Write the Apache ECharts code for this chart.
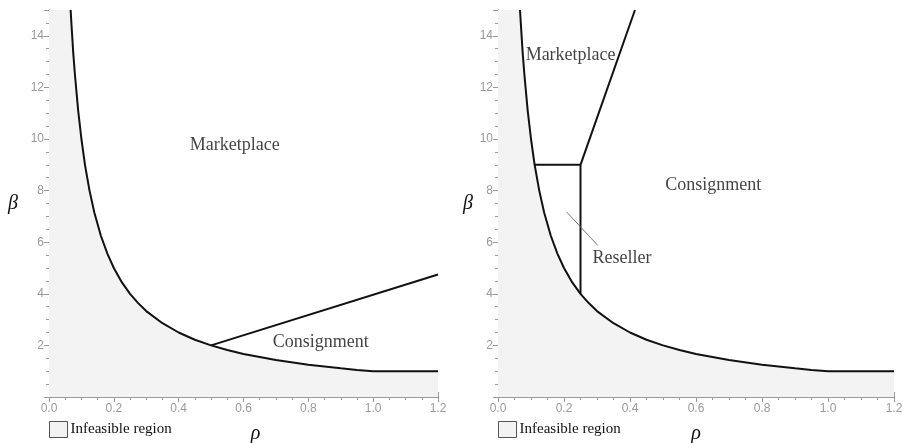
<!DOCTYPE html>
<html>
<head>
<meta charset="utf-8">
<script src="https://cdn.jsdelivr.net/npm/echarts@6/dist/echarts.min.js"></script>
<style>
html,body{margin:0;padding:0;background:#fff;}
#chart{width:903px;height:443px;}
</style>
</head>
<body>
<div id="chart"></div>
<script>
// ---- data ----
const xTickLabels = ['0.0','0.2','0.4','0.6','0.8','1.0','1.2'];
const yTickLabels = ['2','4','6','8','10','12','14'];

// feasibility boundary (same on both panels)
const boundaryRho  = [0.0667, 0.07, 0.075, 0.08, 0.085, 0.09, 0.1, 0.111, 0.125, 0.14, 0.16, 0.18, 0.2, 0.225, 0.25, 0.275, 0.3, 0.35, 0.4, 0.45, 0.5, 0.55, 0.6, 0.7, 0.8, 0.9, 0.95, 1.0, 1.2];
const boundaryBeta = [15, 14.3, 13.3, 12.5, 11.8, 11.1, 10, 9, 8, 7.14, 6.25, 5.56, 5, 4.44, 4, 3.64, 3.33, 2.86, 2.5, 2.22, 2, 1.82, 1.67, 1.43, 1.25, 1.11, 1.05, 1.0, 1.0];
// infeasible fill starts at the top-left corner
const fillStartRho  = [0, 0.0667];
const fillStartBeta = [15, 15];

// left panel: marketplace / consignment split
const leftSplitRho  = [0.5, 1.2];
const leftSplitBeta = [2, 4.75];

// right panel boundaries
const resellerTopRho    = [0.111, 0.25];
const resellerTopBeta   = [9, 9];
const resellerRightRho  = [0.25, 0.25];
const resellerRightBeta = [4, 9];
const marketEdgeRho     = [0.25, 0.415];
const marketEdgeBeta    = [9, 15];
const leaderRho  = [0.208, 0.302];
const leaderBeta = [7.17, 5.88];

// region labels
const leftLabels  = [{name:'Marketplace', rho:0.573, beta:9.76}, {name:'Consignment', rho:0.838, beta:2.14}];
const rightLabels = [{name:'Marketplace', rho:0.22, beta:13.24}, {name:'Consignment', rho:0.652, beta:8.2}, {name:'Reseller', rho:0.376, beta:5.38}];

const legendName = 'Infeasible region';

// ---- build ----
const zip = (a, b) => a.map((v, i) => [v, b[i]]);
const boundary = zip(boundaryRho, boundaryBeta);
const fillData = zip(fillStartRho, fillStartBeta).concat(boundary.slice(1));

const frameColor = '#9a9a9a';
const tickFont = {color:'#999', fontFamily:'Liberation Sans, Arial, sans-serif', fontSize:12};
const serif = 'Liberation Serif, Times New Roman, serif';

function xAxisPair(gi, nameShift) {
  const common = {
    gridIndex: gi, type:'value', min:0, max:1.2, interval:0.2,
    axisLine:{show:true, lineStyle:{color:frameColor, width:1}},
    axisTick:{show:true, inside:true, length:5, lineStyle:{color:frameColor}},
    minorTick:{show:true, splitNumber:4, length:3, lineStyle:{color:frameColor}},
    splitLine:{show:false}, minorSplitLine:{show:false}
  };
  return [
    Object.assign({}, common, {
      position:'bottom',
      axisLabel:Object.assign({margin:6, formatter: v => xTickLabels[Math.round(v/0.2)] || ''}, tickFont),
      name:'ρ', nameLocation:'middle', nameGap:27,
      nameTextStyle:{fontFamily:serif, fontStyle:'italic', fontSize:20, color:'#111', padding:[0,0,0,nameShift]}
    }),
    Object.assign({}, common, {position:'top', axisLabel:{show:false}})
  ];
}
function yAxisPair(gi, nameGap) {
  const common = {
    gridIndex: gi, type:'value', min:0, max:15, interval:2,
    axisLine:{show:true, lineStyle:{color:frameColor, width:1}},
    axisTick:{show:true, inside:true, length:5, lineStyle:{color:frameColor}},
    minorTick:{show:true, splitNumber:4, length:3, lineStyle:{color:frameColor}},
    splitLine:{show:false}, minorSplitLine:{show:false}
  };
  return [
    Object.assign({}, common, {
      position:'left',
      axisLabel:Object.assign({margin:5, showMinLabel:false, showMaxLabel:false,
        formatter: v => (v > 0 && v < 15) ? yTickLabels[Math.round(v/2) - 1] : ''}, tickFont),
      name:'β', nameLocation:'middle', nameRotate:0, nameGap:nameGap,
      nameTextStyle:{fontFamily:serif, fontStyle:'italic', fontSize:20, color:'#111'}
    }),
    Object.assign({}, common, {position:'right', axisLabel:{show:false}})
  ];
}

function lineSeries(xi, yi, data, opts) {
  return Object.assign({
    type:'line', xAxisIndex:xi, yAxisIndex:yi, data:data,
    symbol:'none', silent:true, smooth:false,
    lineStyle:{color:'#111', width:2}, z:5
  }, opts || {});
}
function fillSeries(xi, yi) {
  return {
    type:'line', name:legendName, xAxisIndex:xi, yAxisIndex:yi, data:fillData,
    symbol:'none', silent:true, lineStyle:{width:0, opacity:0},
    itemStyle:{color:'#f3f3f3'},
    areaStyle:{color:'#f3f3f3', opacity:1, origin:'start'}, z:1
  };
}
function labelSeries(xi, yi, labels) {
  return {
    type:'scatter', xAxisIndex:xi, yAxisIndex:yi, symbolSize:0, silent:true, z:6,
    data: labels.map(l => ({name:l.name, value:[l.rho, l.beta]})),
    label:{show:true, position:'inside', formatter:'{b}', fontFamily:serif, fontSize:18, color:'#111'}
  };
}

const legendCommon = {
  top:421, padding:0, itemWidth:18, itemHeight:16, icon:'rect',
  selectedMode:false,
  textStyle:{fontFamily:serif, fontSize:15, color:'#111', padding:[0,0,0,-2]},
  data:[{name:legendName, icon:'rect', itemStyle:{color:'#f3f3f3', borderColor:'#555', borderWidth:1}, lineStyle:{width:0, opacity:0}}]
};

const option = {
  animation:false,
  backgroundColor:'#fff',
  grid:[
    {left:49, top:10, width:389, height:387, containLabel:false, outerBoundsMode:'none'},
    {left:498, top:10, width:396, height:387, containLabel:false, outerBoundsMode:'none'}
  ],
  xAxis: xAxisPair(0, 24).concat(xAxisPair(1, 0)),
  yAxis: yAxisPair(0, 31).concat(yAxisPair(1, 25)),
  legend:[
    Object.assign({left:49}, legendCommon),
    Object.assign({left:498}, legendCommon)
  ],
  series:[
    fillSeries(0, 0),
    lineSeries(0, 0, boundary),
    lineSeries(0, 0, zip(leftSplitRho, leftSplitBeta)),
    labelSeries(0, 0, leftLabels),

    fillSeries(2, 2),
    lineSeries(2, 2, boundary),
    lineSeries(2, 2, zip(resellerTopRho, resellerTopBeta)),
    lineSeries(2, 2, zip(resellerRightRho, resellerRightBeta)),
    lineSeries(2, 2, zip(marketEdgeRho, marketEdgeBeta)),
    lineSeries(2, 2, zip(leaderRho, leaderBeta), {lineStyle:{color:'#777', width:1}}),
    labelSeries(2, 2, rightLabels)
  ]
};

const chart = echarts.init(document.getElementById('chart'), null, {renderer:'canvas'});
chart.setOption(option);
</script>
</body>
</html>
